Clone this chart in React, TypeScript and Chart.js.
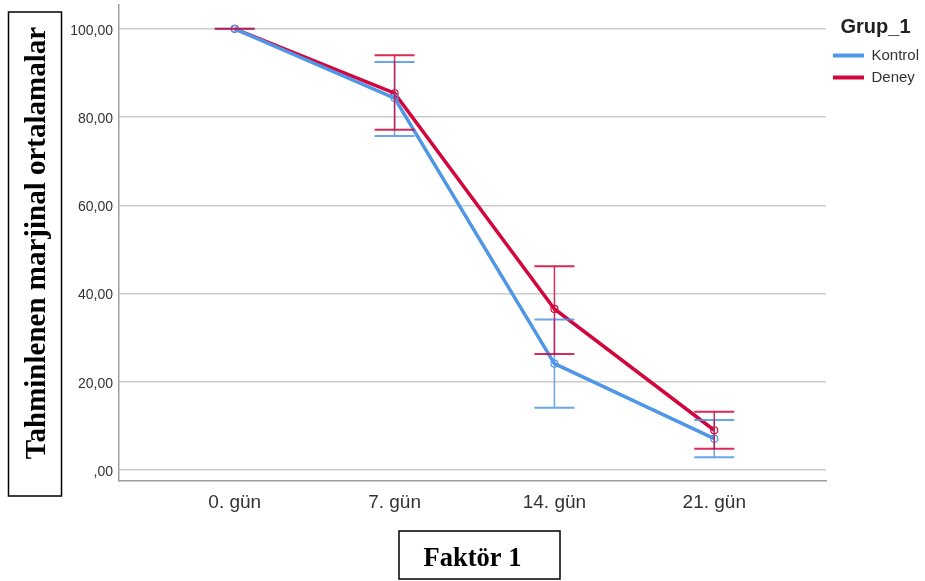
import React, { useEffect, useRef } from "react";
import { Chart, registerables } from "chart.js";

Chart.register(...registerables);

const categories = ["0. gün", "7. gün", "14. gün", "21. gün"];
const seriesNames = ["Kontrol", "Deney"];
const kontrolMean = [100, 84.3, 24.1, 7.1];
const kontrolLower = [100, 75.7, 14.1, 2.9];
const kontrolUpper = [100, 92.5, 34.1, 11.3];
const deneyMean = [100, 85.4, 36.5, 9.0];
const deneyLower = [100, 77.1, 26.3, 4.8];
const deneyUpper = [100, 94.0, 46.2, 13.2];
const yTickValues = [0, 20, 40, 60, 80, 100];
const yTickLabels = [",00", "20,00", "40,00", "60,00", "80,00", "100,00"];
const legendTitle = "Grup_1";
const yAxisTitle = "Tahminlenen marjinal ortalamalar";
const xAxisTitle = "Faktör 1";

const BLUE = "#4f97e6";
const RED = "#d2063c";

const errorBounds = [
  [kontrolLower, kontrolUpper],
  [deneyLower, deneyUpper],
];

const errorBarPlugin = {
  id: "errorBars",
  afterDatasetsDraw(chart: any) {
    const { ctx } = chart;
    const xs = chart.scales.x;
    const ys = chart.scales.y;
    chart.data.datasets.forEach((ds: any, di: number) => {
      const [lo, hi] = errorBounds[di];
      ctx.save();
      ctx.strokeStyle = ds.borderColor;
      ctx.globalAlpha = 0.85;
      categories.forEach((_, i) => {
        const px = xs.getPixelForValue(i);
        const yl = ys.getPixelForValue(lo[i]);
        const yh = ys.getPixelForValue(hi[i]);
        ctx.lineWidth = 1.5;
        ctx.beginPath();
        ctx.moveTo(px, yl);
        ctx.lineTo(px, yh);
        ctx.stroke();
        ctx.lineWidth = 2;
        ctx.beginPath();
        ctx.moveTo(px - 20, yl);
        ctx.lineTo(px + 20, yl);
        ctx.moveTo(px - 20, yh);
        ctx.lineTo(px + 20, yh);
        ctx.stroke();
      });
      ctx.restore();
    });
  },
};

const titleBoxPlugin = {
  id: "titleBoxes",
  afterDraw(chart: any) {
    const { ctx, chartArea } = chart;
    const xs = chart.scales.x;
    const ys = chart.scales.y;
    ctx.save();
    ctx.strokeStyle = "#000";
    ctx.lineWidth = 1.5;
    ctx.strokeRect(ys.left + 8.5, chartArea.top + 7, 53, chartArea.bottom - chartArea.top + 8);
    const cx = (chartArea.left + chartArea.right) / 2 + 7;
    ctx.strokeRect(cx - 80.5, xs.bottom - 50, 161, 48);
    ctx.restore();
  },
};

const noScalePadding = (s: any) => {
  s.paddingTop = 0;
  s.paddingBottom = 0;
  s.paddingLeft = 0;
  s.paddingRight = 0;
};

export default function App() {
  const canvasRef = useRef<HTMLCanvasElement | null>(null);

  useEffect(() => {
    document.body.style.margin = "0";
    const canvas = canvasRef.current;
    if (!canvas) return;
    const chart = new Chart(canvas, {
      type: "line",
      data: {
        datasets: [
          {
            label: seriesNames[0],
            data: kontrolMean.map((v, i) => ({ x: i, y: v })),
            borderColor: BLUE,
            backgroundColor: BLUE,
            borderWidth: 3.5,
            tension: 0,
            fill: false,
            pointRadius: 3.5,
            pointBorderWidth: 1.2,
            pointBackgroundColor: "rgba(255,255,255,0)",
            pointBorderColor: BLUE,
          },
          {
            label: seriesNames[1],
            data: deneyMean.map((v, i) => ({ x: i, y: v })),
            borderColor: RED,
            backgroundColor: RED,
            borderWidth: 3.5,
            tension: 0,
            fill: false,
            pointRadius: 3.5,
            pointBorderWidth: 1.2,
            pointBackgroundColor: "rgba(255,255,255,0)",
            pointBorderColor: RED,
          },
        ],
      },
      options: {
        animation: false,
        responsive: false,
        devicePixelRatio: 1,
        events: [],
        layout: { autoPadding: false, padding: { top: 5, left: 0, right: 0, bottom: 0 } },
        plugins: {
          tooltip: { enabled: false },
          legend: {
            position: "right",
            align: "start",
            maxWidth: 99,
            title: {
              display: true,
              text: legendTitle,
              color: "#222",
              font: { family: "Liberation Sans", size: 20, weight: "bold" },
              padding: { top: 12, bottom: 0 },
            },
            labels: {
              boxWidth: 31,
              boxHeight: 4,
              padding: 7,
              color: "#333",
              font: { family: "Liberation Sans", size: 15 },
              generateLabels: (c: any) =>
                (Chart as any).defaults.plugins.legend.labels
                  .generateLabels(c)
                  .map((l: any) => ({ ...l, lineWidth: 0, fillStyle: l.strokeStyle })),
            },
          },
        },
        scales: {
          x: {
            type: "linear",
            min: -0.724,
            max: 3.699,
            afterBuildTicks: (s: any) => {
              s.ticks = categories.map((_, i) => ({ value: i }));
            },
            afterFit: (s: any) => {
              s.height = 100;
              noScalePadding(s);
            },
            ticks: {
              callback: (_v: any, i: number) => categories[i],
              font: { family: "Liberation Sans", size: 19 },
              color: "#333",
              padding: 10,
              maxRotation: 0,
              autoSkip: false,
            },
            grid: { display: false, drawTicks: false },
            border: { display: true, color: "#a0a0a0", width: 1.5 },
            title: {
              display: true,
              text: xAxisTitle,
              color: "#000",
              font: { family: "Liberation Serif", size: 26.5, weight: "bold" },
              padding: { top: 0, bottom: 6 },
            },
          },
          y: {
            type: "linear",
            min: -2.5,
            max: 105.4,
            afterBuildTicks: (s: any) => {
              s.ticks = yTickValues.map((v) => ({ value: v }));
            },
            afterFit: (s: any) => {
              s.width = 119;
              noScalePadding(s);
            },
            ticks: {
              callback: (_v: any, i: number) => yTickLabels[i],
              font: { family: "Liberation Sans", size: 14 },
              color: "#333",
              padding: 6,
              labelOffset: 2,
            },
            grid: { color: "#cccccc", lineWidth: 1.5, drawTicks: false },
            border: { display: true, color: "#a0a0a0", width: 1.5 },
            title: {
              display: true,
              text: yAxisTitle,
              color: "#000",
              font: { family: "Liberation Serif", size: 29, weight: "bold" },
              padding: { top: 20, bottom: 0 },
            },
          },
        },
      },
      plugins: [errorBarPlugin, titleBoxPlugin],
    } as any);
    return () => chart.destroy();
  }, []);

  return (
    <div style={{ width: 925, height: 581 }}>
      <canvas ref={canvasRef} width={925} height={581} style={{ display: "block" }} />
    </div>
  );
}
